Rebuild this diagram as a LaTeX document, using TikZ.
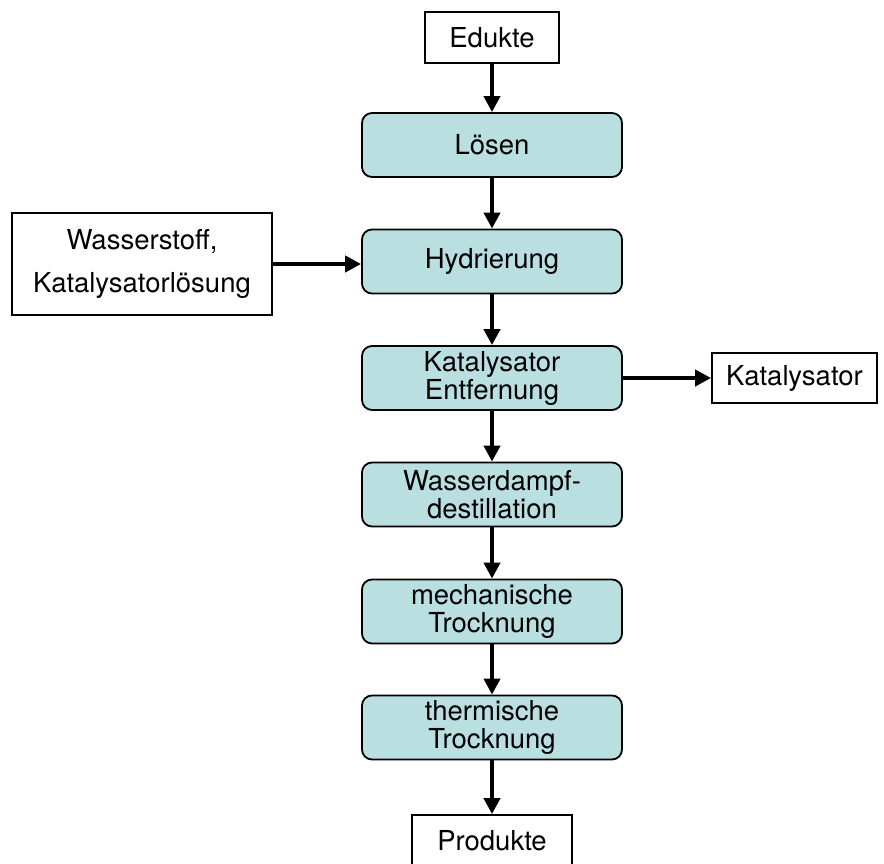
\documentclass[tikz,border=0pt]{standalone}
\usepackage{fontspec}
\setmainfont{TeX Gyre Heros}
\usetikzlibrary{arrows.meta}
\definecolor{procfill}{RGB}{185,223,225}

\begin{document}
\begin{tikzpicture}[x=1pt,y=-1pt,font=\fontsize{27.5}{28}\selectfont,
	procbox/.style={draw,line width=1.8pt,rounded corners=10pt,fill=procfill,minimum width=260pt,minimum height=64pt,align=center,inner sep=0pt},
	endbox/.style={draw,line width=1.8pt,fill=white,align=center,inner sep=0pt},
	flow/.style={line width=4.7pt,-{Triangle[length=16pt,width=16pt]}}]
	\useasboundingbox (0,0) rectangle (884,863);
	\node[endbox,minimum width=134pt,minimum height=51pt] (edukte) at (492,37.5) {Edukte};
	\foreach \name/\ypos/\steptext in {loesen/145/{Lösen}, hydr/261.5/{Hydrierung}, katent/378/{Katalysator\\Entfernung}, dampf/494.5/{Wasserdampf-\\destillation}, mechtr/611.5/{mechanische\\Trocknung}, thermtr/727.5/{thermische\\Trocknung}} {
		\node[procbox] (\name) at (492,\ypos) {\steptext};
	}
	\node[endbox,minimum width=160pt,minimum height=51pt] (produkte) at (492,840.5) {Produkte};
	\node[endbox,minimum width=260pt,minimum height=102pt] (zufuhr) at (142,264) {Wasserstoff,\\[15pt]Katalysatorlösung};
	\node[endbox,minimum width=165pt,minimum height=50pt] (kat) at (794.5,378) {Katalysator};
	\draw[flow] (edukte) -- (loesen);
	\foreach \from/\to in {loesen/hydr, hydr/katent, katent/dampf, dampf/mechtr, mechtr/thermtr, thermtr/produkte} {
		\draw[flow] (\from) -- (\to);
	}
	\draw[flow] (zufuhr.east) -- (zufuhr.east -| hydr.west);
	\draw[flow] (katent.east) -- (kat.west);
\end{tikzpicture}
\end{document}
